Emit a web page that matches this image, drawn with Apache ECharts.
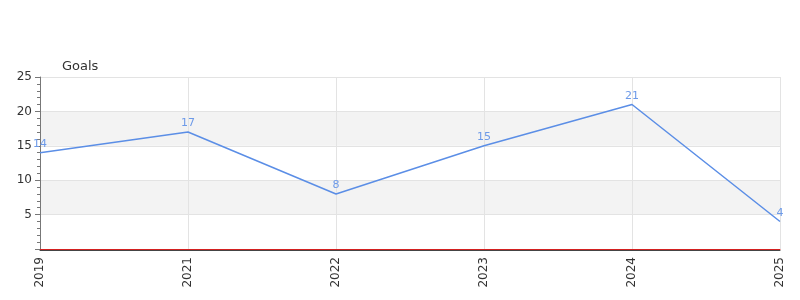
<!DOCTYPE html>
<html><head><meta charset="utf-8">
<script src="https://cdn.jsdelivr.net/npm/echarts@6/dist/echarts.min.js"></script>
<style>html,body{margin:0;padding:0;background:#fff}#c{width:800px;height:300px}</style>
</head><body><div id="c"></div>
<script>
const categories = ['2019','2021','2022','2023','2024','2025'];
const goals = [14, 17, 8, 15, 21, 4];
const yName = 'Goals';

const chart = echarts.init(document.getElementById('c'));
chart.setOption({
  animation: false,
  grid: {left: 40, right: 20, top: 77, bottom: 51, containLabel: false},
  xAxis: [{
    type: 'category', data: categories, boundaryGap: false,
    axisLine: {lineStyle: {color: '#d42020', width: 1}},
    axisTick: {show: false},
    axisLabel: {rotate: 90, color: '#333', fontSize: 12, margin: 8, fontFamily: 'DejaVu Sans'},
    splitLine: {show: true, lineStyle: {color: '#e3e3e3'}}
  }, {
    type: 'category', data: categories, boundaryGap: false, position: 'bottom', offset: 1,
    axisLine: {lineStyle: {color: '#444', width: 1}},
    axisTick: {show: false}, axisLabel: {show: false}, splitLine: {show: false}
  }],
  yAxis: {
    type: 'value', min: 0, max: 25, interval: 5,
    name: yName, nameLocation: 'end', nameGap: 4,
    nameTextStyle: {color: '#333', fontSize: 13, align: 'left', padding: [0,0,0,22], fontFamily: 'DejaVu Sans'},
    axisLine: {show: true, lineStyle: {color: '#777'}},
    axisTick: {show: true, length: 5, lineStyle: {color: '#777'}},
    minorTick: {show: true, splitNumber: 5, length: 3, lineStyle: {color: '#777'}},
    axisLabel: {color: '#333', fontSize: 12, showMinLabel: false, margin: 8, fontFamily: 'DejaVu Sans'},
    splitLine: {show: true, lineStyle: {color: '#e3e3e3'}},
    splitArea: {show: true, areaStyle: {color: ['#ffffff', '#f3f3f3']}}
  },
  series: [{
    type: 'line', data: goals,
    symbol: 'circle', symbolSize: 0,
    lineStyle: {color: '#5b8ee6', width: 1.5},
    itemStyle: {color: '#5b8ee6'},
    label: {show: true, position: 'top', color: '#6d9ae8', fontSize: 11, distance: 3, fontFamily: 'DejaVu Sans'}
  }]
});
</script></body></html>
